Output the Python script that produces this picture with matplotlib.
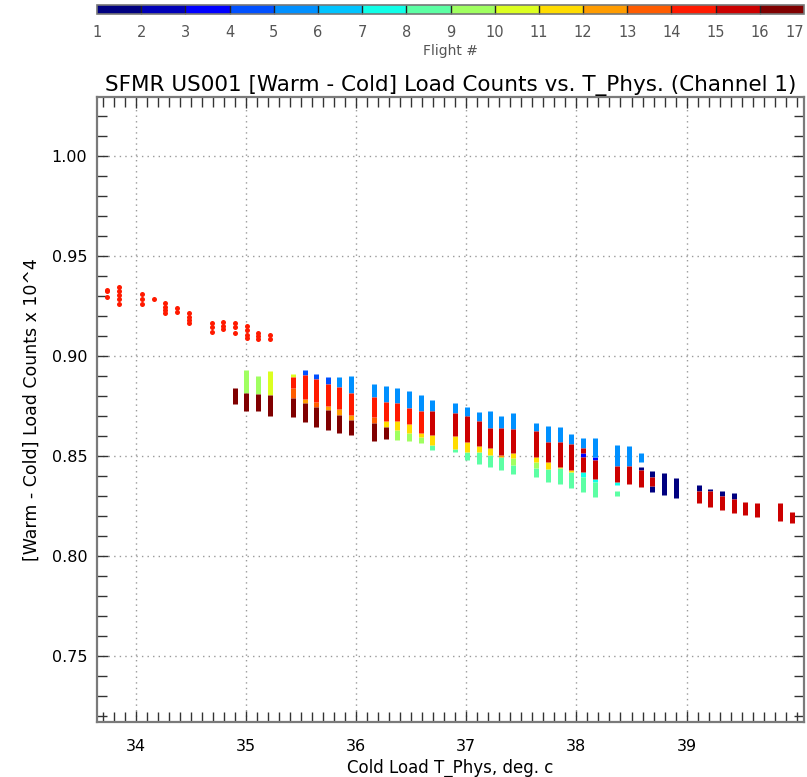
import numpy as np
import matplotlib
matplotlib.use("Agg")
import matplotlib.pyplot as plt
from matplotlib.colors import ListedColormap, BoundaryNorm
from matplotlib.colorbar import ColorbarBase
from matplotlib.ticker import MultipleLocator

# ---------------- data ----------------
flight_colors = ["#000080", "#0000b8", "#0000ff", "#0050ff", "#0090ff", "#00c4ff",
                 "#10ffe8", "#5cffa4", "#a0ff60", "#dcff20", "#ffdc00", "#ff9c00",
                 "#ff5c00", "#ff1a00", "#cc0000", "#800000"]
flight_ticks = list(range(1, 18))

# flight 14 early points (individual samples)
f14_dot_x = [33.743, 33.743, 33.743,
             33.848, 33.848, 33.848, 33.848, 33.848,
             34.061, 34.061, 34.061,
             34.166,
             34.270, 34.270, 34.270, 34.270,
             34.375, 34.375,
             34.484, 34.484, 34.484, 34.484,
             34.690, 34.690, 34.690,
             34.796, 34.796, 34.796,
             34.901, 34.901, 34.901,
             35.007, 35.007, 35.007, 35.007,
             35.110, 35.110, 35.110,
             35.216, 35.216]
f14_dot_y = [0.9330, 0.9323, 0.9297,
             0.9347, 0.9327, 0.9305, 0.9285, 0.9260,
             0.9310, 0.9283, 0.9260,
             0.9285,
             0.9263, 0.9247, 0.9230, 0.9213,
             0.9242, 0.9222,
             0.9213, 0.9197, 0.9180, 0.9163,
             0.9167, 0.9147, 0.9122,
             0.9172, 0.9152, 0.9133,
             0.9167, 0.9147, 0.9113,
             0.9150, 0.9130, 0.9105, 0.9092,
             0.9117, 0.9100, 0.9083,
             0.9105, 0.9083]

# segments per flight: (T_phys, low, high)
f01 = [(38.582, 0.8430, 0.8443), (38.689, 0.8397, 0.8427), (38.689, 0.8322, 0.8350),
       (38.794, 0.8305, 0.8413), (38.900, 0.8288, 0.8388), (39.109, 0.8327, 0.8355),
       (39.215, 0.8327, 0.8337), (39.320, 0.8302, 0.8327), (39.426, 0.8285, 0.8313)]
f03 = [(38.059, 0.8497, 0.8513), (38.165, 0.8480, 0.8497)]
f04 = [(35.533, 0.8905, 0.8930), (35.638, 0.8885, 0.8910), (35.745, 0.8860, 0.8893)]
f05 = [(35.850, 0.8847, 0.8897), (35.957, 0.8817, 0.8900), (36.162, 0.8793, 0.8860),
       (36.269, 0.8772, 0.8850), (36.375, 0.8763, 0.8838), (36.480, 0.8738, 0.8825),
       (36.586, 0.8725, 0.8805), (36.692, 0.8725, 0.8780), (36.901, 0.8717, 0.8767),
       (37.006, 0.8700, 0.8747), (37.112, 0.8677, 0.8722), (37.219, 0.8638, 0.8727),
       (37.318, 0.8642, 0.8702), (37.424, 0.8635, 0.8713), (37.636, 0.8625, 0.8663),
       (37.742, 0.8572, 0.8650), (37.848, 0.8572, 0.8647), (37.954, 0.8558, 0.8610),
       (38.059, 0.8538, 0.8588), (38.165, 0.8497, 0.8588), (38.371, 0.8450, 0.8555),
       (38.476, 0.8450, 0.8550), (38.582, 0.8472, 0.8517)]
f07 = [(38.059, 0.8397, 0.8422), (38.165, 0.8368, 0.8385), (38.371, 0.8355, 0.8372)]
f08 = [(36.692, 0.8530, 0.8555), (36.901, 0.8518, 0.8535), (37.006, 0.8480, 0.8522),
       (37.112, 0.8460, 0.8522), (37.219, 0.8443, 0.8505), (37.318, 0.8430, 0.8497),
       (37.424, 0.8410, 0.8455), (37.636, 0.8397, 0.8438), (37.742, 0.8372, 0.8435),
       (37.848, 0.8358, 0.8438), (37.954, 0.8338, 0.8418), (38.059, 0.8322, 0.8397),
       (38.165, 0.8297, 0.8368), (38.371, 0.8302, 0.8325)]
f09 = [(35.005, 0.8817, 0.8930), (35.110, 0.8808, 0.8900), (36.375, 0.8580, 0.8630),
       (36.480, 0.8575, 0.8613), (36.586, 0.8563, 0.8597), (37.424, 0.8455, 0.8488),
       (37.636, 0.8438, 0.8472)]
f10 = [(35.216, 0.8805, 0.8925), (35.427, 0.8897, 0.8908)]
f11 = [(36.269, 0.8647, 0.8677), (36.375, 0.8630, 0.8677), (36.480, 0.8613, 0.8660),
       (36.586, 0.8597, 0.8617), (36.692, 0.8555, 0.8605), (36.901, 0.8535, 0.8602),
       (37.006, 0.8522, 0.8572), (37.112, 0.8522, 0.8550), (37.219, 0.8505, 0.8538),
       (37.424, 0.8488, 0.8513), (37.636, 0.8472, 0.8497), (37.742, 0.8435, 0.8472),
       (37.848, 0.8438, 0.8447), (37.954, 0.8418, 0.8430)]
f12 = [(35.533, 0.8763, 0.8783), (35.745, 0.8730, 0.8752), (35.850, 0.8705, 0.8733),
       (35.957, 0.8680, 0.8705), (37.318, 0.8497, 0.8505)]
f13 = [(35.427, 0.8788, 0.8838), (35.638, 0.8747, 0.8772), (36.162, 0.8663, 0.8697)]
f14 = [(35.427, 0.8838, 0.8897), (35.533, 0.8783, 0.8905), (35.638, 0.8772, 0.8885),
       (35.745, 0.8752, 0.8860), (35.850, 0.8733, 0.8847), (35.957, 0.8705, 0.8817),
       (36.162, 0.8697, 0.8793), (36.269, 0.8677, 0.8772), (36.375, 0.8677, 0.8763),
       (36.480, 0.8660, 0.8738), (36.586, 0.8617, 0.8725)]
f15 = [(36.692, 0.8605, 0.8725), (36.901, 0.8602, 0.8717), (37.006, 0.8572, 0.8700),
       (37.112, 0.8550, 0.8677), (37.219, 0.8538, 0.8638), (37.318, 0.8505, 0.8642),
       (37.424, 0.8513, 0.8635), (37.636, 0.8497, 0.8625), (37.742, 0.8472, 0.8572),
       (37.848, 0.8447, 0.8572), (37.954, 0.8430, 0.8558), (38.059, 0.8513, 0.8538),
       (38.059, 0.8422, 0.8497), (38.165, 0.8385, 0.8480), (38.371, 0.8372, 0.8450),
       (38.476, 0.8360, 0.8450), (38.582, 0.8343, 0.8430), (38.689, 0.8350, 0.8397),
       (39.109, 0.8267, 0.8327), (39.215, 0.8247, 0.8327), (39.320, 0.8230, 0.8302),
       (39.426, 0.8213, 0.8285), (39.533, 0.8205, 0.8272), (39.635, 0.8193, 0.8263),
       (39.847, 0.8177, 0.8267), (39.953, 0.8163, 0.8222)]
f16 = [(34.898, 0.8758, 0.8838), (35.005, 0.8725, 0.8817), (35.110, 0.8725, 0.8808),
       (35.216, 0.8702, 0.8805), (35.427, 0.8693, 0.8788), (35.533, 0.8668, 0.8763),
       (35.638, 0.8647, 0.8747), (35.745, 0.8630, 0.8730), (35.850, 0.8613, 0.8705),
       (35.957, 0.8605, 0.8680), (36.162, 0.8575, 0.8663), (36.269, 0.8583, 0.8647)]

segments = {1: f01, 3: f03, 4: f04, 5: f05, 7: f07, 8: f08, 9: f09, 10: f10,
            11: f11, 12: f12, 13: f13, 14: f14, 15: f15, 16: f16}

x_ticks = [34, 35, 36, 37, 38, 39]
y_ticks = [0.75, 0.80, 0.85, 0.90, 0.95, 1.00]

# ---------------- figure ----------------
W, H = 807, 777
fig = plt.figure(figsize=(W / 100, H / 100), dpi=100)
plt.rcParams['font.family'] = ['DejaVu Sans']

ax = fig.add_axes([97 / W, 1 - 722 / H, (804 - 97) / W, (722 - 97) / H])
ax.set_xlim(33.65, 40.065)
ax.set_ylim(0.717, 1.0295)

spine_col = "#7a7a7a"
for s in ax.spines.values():
    s.set_color(spine_col)
    s.set_linewidth(1.6)

ax.set_xticks(x_ticks)
ax.set_yticks(y_ticks)
ax.set_yticklabels([f"{v:.2f}" for v in y_ticks])
ax.xaxis.set_minor_locator(MultipleLocator(0.1))
ax.yaxis.set_minor_locator(MultipleLocator(0.01))
ax.tick_params(which='both', direction='in', top=True, right=True,
               color='#333333', width=1.0, labelsize=11.5)
ax.tick_params(which='major', length=8)
ax.tick_params(which='minor', length=7.5)
ax.tick_params(axis='x', pad=12)
ax.tick_params(axis='y', pad=7)
ax.grid(True, which='major', color='#999999', linestyle=(0, (1, 3)), linewidth=1.0)
ax.set_axisbelow(True)

for fl, segs in segments.items():
    xs = [s[0] for s in segs]
    lo = [s[1] for s in segs]
    hi = [s[2] for s in segs]
    lc = ax.vlines(xs, lo, hi, colors=flight_colors[fl - 1], linewidth=3.6, zorder=3)
    lc.set_capstyle('butt')

ax.plot(f14_dot_x, f14_dot_y, 'o', color=flight_colors[13], ms=3.6, mec='none', zorder=3)

ax.set_xlabel("Cold Load T_Phys, deg. c", fontsize=12, labelpad=4)
ax.set_ylabel("[Warm - Cold] Load Counts x 10^4", fontsize=12.5, labelpad=8)
fig.text(0.5 * (97 + 804) / W, 1 - 86 / H,
         "SFMR US001 [Warm - Cold] Load Counts vs. T_Phys. (Channel 1)",
         ha='center', va='center', fontsize=15.5)

# ---------------- colorbar ----------------
cax = fig.add_axes([97 / W, 1 - 14 / H, (804 - 97) / W, 9 / H])
cmap = ListedColormap(flight_colors)
norm = BoundaryNorm(flight_ticks, cmap.N)
cb = ColorbarBase(cax, cmap=cmap, norm=norm, orientation='horizontal',
                  ticks=flight_ticks, drawedges=True)
cb.outline.set_edgecolor('#777777')
cb.outline.set_linewidth(1.2)
cb.dividers.set_color('#222222')
cb.dividers.set_linewidth(1.0)
cax.tick_params(length=0, labelsize=10.5, pad=8, colors='#555555')
cax.set_xticklabels([str(t) for t in flight_ticks])
lbls = cax.get_xticklabels()
lbls[-1].set_horizontalalignment('right')
lbls[-1].set_x(flight_ticks[-1])
cb.set_label("Flight #", fontsize=10, color='#555555', labelpad=3)

fig.savefig("out.png", dpi=100)
